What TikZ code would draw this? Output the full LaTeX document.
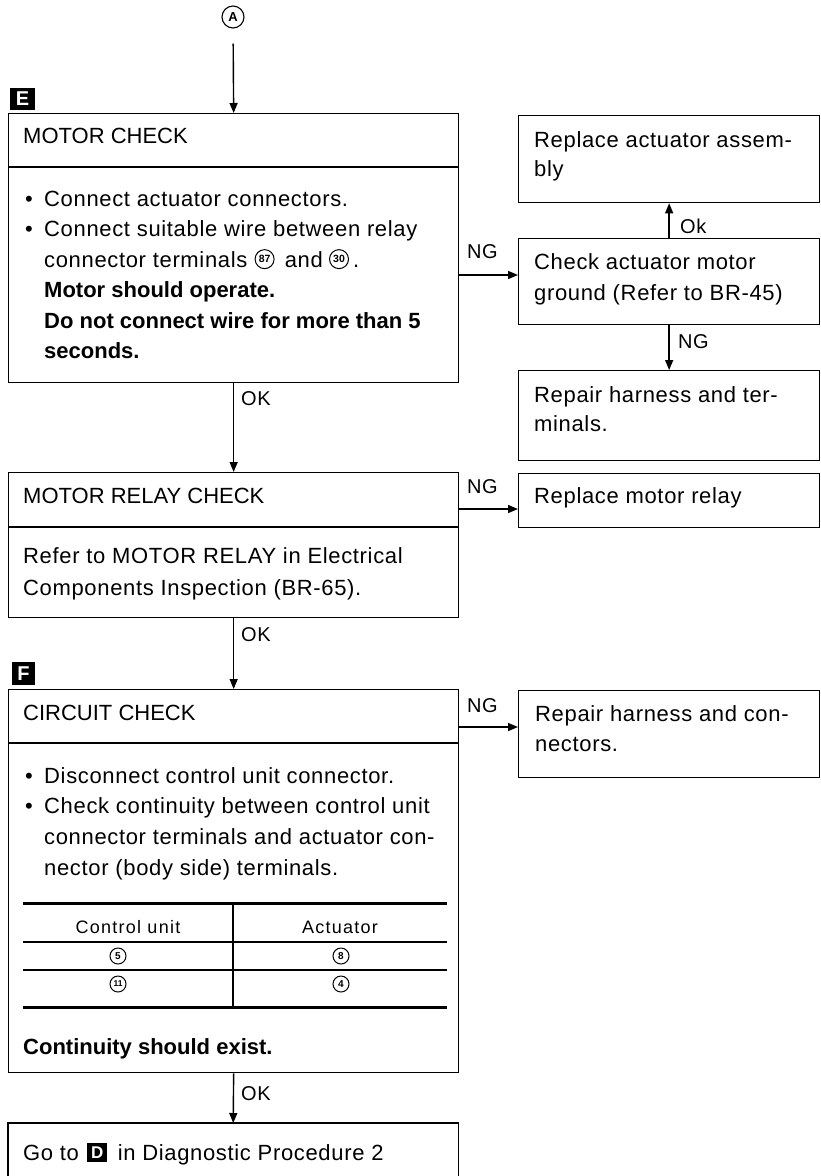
\documentclass[tikz,border=0pt]{standalone}
\usepackage{fontspec}
\setmainfont{Liberation Sans}
\newfontfamily\trackfont[LetterSpace=3]{Liberation Sans}
\newfontfamily\tablefont[LetterSpace=7]{Liberation Sans}
\usetikzlibrary{arrows.meta}

\newcommand\bul{\makebox[21pt][l]{\hspace{2pt}\textbullet}}

\tikzset{
  box/.style={draw, line width=1.3pt, inner sep=0pt, anchor=north west},
  divider/.style={line width=1.3pt},
  headtxt/.style={anchor=base west, inner sep=0pt, font=\fontsize{22}{26}\selectfont},
  bodytxt/.style={anchor=base west, inner sep=0pt, font=\trackfont\fontsize{22}{26}\selectfont},
  boldtxt/.style={anchor=base west, inner sep=0pt, font=\bfseries\fontsize{22}{26}\selectfont},
  lbl/.style={anchor=base west, inner sep=0pt, font=\trackfont\fontsize{20}{24}\selectfont},
  celltxt/.style={anchor=base, inner sep=0pt, font=\tablefont\fontsize{18}{20}\selectfont},
  flow/.style={line width=1.4pt, -{Triangle[length=10pt,width=8pt]}},
  tag/.style={fill=black, text=white, inner sep=0pt, font=\bfseries\fontsize{20}{20}\selectfont},
  cnum/.style={draw, circle, line width=1pt, inner sep=0pt, minimum size=19pt,
    font=\bfseries\fontsize{10.5}{10.5}\selectfont},
  cnumsmall/.style={cnum, minimum size=16pt, font=\bfseries\fontsize{10}{10}\selectfont},
  heavyrule/.style={line width=3pt},
  lightrule/.style={line width=1.1pt},
}

\begin{document}
\begin{tikzpicture}[x=1pt, y=-1pt]
\useasboundingbox (0,0) rectangle (821,1176);

% ---- entry point
\node[draw, circle, line width=1.1pt, minimum size=22pt, inner sep=0pt,
      font=\bfseries\fontsize{13}{13}\selectfont] (entry) at (233,17) {A};

% ---- main column boxes
\node[box, minimum width=450pt, minimum height=269pt] (motor) at (8,113) {};
\node[box, minimum width=450pt, minimum height=145pt] (relay) at (8,472) {};
\node[box, minimum width=450pt, minimum height=383pt] (circuit) at (8,689) {};
\node[inner sep=0pt, anchor=north west, minimum width=450pt, minimum height=53pt] (goto) at (8,1123) {};
\draw[divider] (goto.south west) -- (goto.north west) -- (goto.north east) -- (goto.south east);

\draw[divider] ([yshift=-54pt]motor.north west) -- ([yshift=-54pt]motor.north east);
\draw[divider] ([yshift=-55pt]relay.north west) -- ([yshift=-55pt]relay.north east);
\draw[divider] ([yshift=-54pt]circuit.north west) -- ([yshift=-54pt]circuit.north east);

% ---- section tags
\node[tag, minimum width=25pt, minimum height=22pt] (tagE) at (22.5,99) {E};
\node[tag, minimum width=23pt, minimum height=23pt] (tagF) at (23.5,673.5) {F};

% ---- side boxes
\node[box, minimum width=301pt, minimum height=87pt] (rA) at (518,115) {};
\node[box, minimum width=301pt, minimum height=86pt] (rB) at (518,238) {};
\node[box, minimum width=301pt, minimum height=90pt] (rC) at (518,370) {};
\node[box, minimum width=301pt, minimum height=54pt] (rD) at (518,473) {};
\node[box, minimum width=301pt, minimum height=87pt] (rE) at (518,690) {};

% ---- MOTOR CHECK
\node[headtxt] (mHead) at (23,143) {MOTOR CHECK};
\node[bodytxt] (m1) at (23,206) {\bul Connect actuator connectors.};
\node[bodytxt] (m2) at (23,236) {\bul Connect suitable wire between relay};
\node[bodytxt] (m3) at (44,267) {connector terminals};
\node[cnum, anchor=west] (c87) at ([xshift=7pt]m3.east) {87};
\node[bodytxt] (m3b) at ([xshift=10pt]c87.east |- m3.base) {and};
\node[cnum, anchor=west] (c30) at ([xshift=6pt]m3b.east) {30};
\node[bodytxt] (m3c) at ([xshift=4pt]c30.east |- m3.base) {.};
\node[boldtxt] (m4) at (44,297) {Motor should operate.};
\node[boldtxt] (m5) at (44,328) {Do not connect wire for more than 5};
\node[boldtxt] (m6) at (44,358) {seconds.};

% ---- MOTOR RELAY CHECK
\node[headtxt] (rHead) at (23,503) {MOTOR RELAY CHECK};
\node[bodytxt] (r1) at (23,563) {Refer to MOTOR RELAY in Electrical};
\node[bodytxt] (r2) at (23,595) {Components Inspection (BR-65).};

% ---- CIRCUIT CHECK
\node[headtxt] (cHead) at (23,720) {CIRCUIT CHECK};
\node[bodytxt] (k1) at (23,783) {\bul Disconnect control unit connector.};
\node[bodytxt] (k2) at (23,813) {\bul Check continuity between control unit};
\node[bodytxt] (k3) at (44,844) {connector terminals and actuator con-};
\node[bodytxt] (k4) at (44,875) {nector (body side) terminals.};

% continuity table
\draw[heavyrule] (23,903) -- (447,903);
\draw[lightrule] (23,942) -- (447,942);
\draw[lightrule] (23,970) -- (447,970);
\draw[heavyrule] (23,1007) -- (447,1007);
\draw[lightrule] (233,903) -- (233,1007);
\node[celltxt] (thA) at (128,933) {Control unit};
\node[celltxt] (thB) at (340,933) {Actuator};
\node[cnumsmall] (t5) at (118,956) {5};
\node[cnumsmall] (t8) at (341,956) {8};
\node[cnumsmall, font=\bfseries\fontsize{8.5}{8.5}\selectfont] (t11) at (118,984) {11};
\node[cnumsmall] (t4) at (341,984) {4};

\node[boldtxt] (k5) at (23,1054) {Continuity should exist.};

% ---- final step
\node[bodytxt] (g1) at (23,1160) {Go to};
\node[tag, anchor=west, minimum width=20pt, minimum height=19pt,
      font=\bfseries\fontsize{17}{17}\selectfont] (tagD) at ([xshift=8pt]g1.east) {D};
\node[bodytxt] (g2) at ([xshift=10pt]tagD.east |- g1.base) {in Diagnostic Procedure 2};

% ---- side box texts
\node[bodytxt] (a1) at (534,147) {Replace actuator assem-};
\node[bodytxt] (a2) at (534,176) {bly};
\node[bodytxt] (b1) at (534,269) {Check actuator motor};
\node[bodytxt] (b2) at (534,300) {ground (Refer to BR-45)};
\node[bodytxt] (h1) at (534,402) {Repair harness and ter-};
\node[bodytxt] (h2) at (534,431) {minals.};
\node[bodytxt] (d1) at (534,503) {Replace motor relay};
\node[bodytxt] (e1) at (535,721) {Repair harness and con-};
\node[bodytxt] (e2) at (535,751) {nectors.};

% ---- main flow
\draw[flow, shorten <=15pt] (entry) -- (motor.north);
\draw[flow] (motor.south) -- (relay.north);
\draw[flow] (relay.south) -- (circuit.north);
\draw[flow] (circuit.south) -- (goto.north);

\node[lbl] (ok1) at (241,405) {OK};
\node[lbl] (ok2) at (241,641) {OK};
\node[lbl] (ok3) at (241,1100) {OK};

% ---- NG branches
\coordinate (motorNG) at ([yshift=-162pt]motor.north east);
\coordinate (relayNG) at ([yshift=-37pt]relay.north east);
\coordinate (circuitNG) at ([yshift=-38pt]circuit.north east);
\draw[flow] (motorNG) -- (motorNG -| rB.west);
\draw[flow] (relayNG) -- (relayNG -| rD.west);
\draw[flow] (circuitNG) -- (circuitNG -| rE.west);
\node[lbl] (ng1) at (467,258) {NG};
\node[lbl] (ng2) at (467,493) {NG};
\node[lbl] (ng3) at (467,712) {NG};

\draw[flow] (rB.north) -- (rA.south);
\node[lbl] (okA) at (680,233) {Ok};
\draw[flow] (rB.south) -- (rC.north);
\node[lbl] (ng4) at (678,348) {NG};
\end{tikzpicture}
\end{document}
